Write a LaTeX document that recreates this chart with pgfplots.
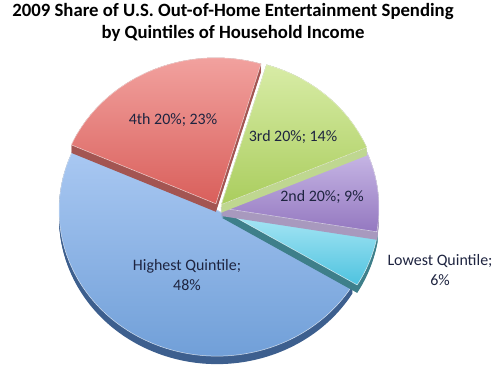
\documentclass[border=0pt]{standalone}
\usepackage{pgfplots}
\pgfplotsset{compat=1.18}
\usepackage{fontspec}
\setmainfont{Carlito}

\definecolor{bluetop}{HTML}{A9C8F2}
\definecolor{bluebot}{HTML}{6C9CD6}
\definecolor{blueside}{HTML}{3D5F8E}
\definecolor{redtop}{HTML}{F4A8A5}
\definecolor{redbot}{HTML}{D95F5B}
\definecolor{redside}{HTML}{A35552}
\definecolor{greentop}{HTML}{D8ECA6}
\definecolor{greenbot}{HTML}{AACD5E}
\definecolor{greenside}{HTML}{BFD790}
\definecolor{purptop}{HTML}{C8B8E6}
\definecolor{purpbot}{HTML}{9478C0}
\definecolor{purpside}{HTML}{A899BE}
\definecolor{cyantop}{HTML}{AEE8F6}
\definecolor{cyanbot}{HTML}{4EC3DF}
\definecolor{cyanside}{HTML}{3E7F8A}
\definecolor{labcol}{HTML}{1E2440}

% #1 start angle, #2 end angle, #3 explode, #4 downward offset, #5 style
\newcommand\sideat[5]{%
  \fill[#5] (axis cs:{218+#3*cos((#1+#2)/2)},{166+#3*sin((#1+#2)/2)-#4})
   -- (axis cs:{218+#3*cos((#1+#2)/2)+158*cos(#1)},{166+#3*sin((#1+#2)/2)+146*sin(#1)-#4})
   arc[start angle=#1,end angle=#2,x radius=158bp,y radius=146bp] -- cycle;}
% #1 start, #2 end, #3 explode, #4 top colour, #5 bottom colour, #6 side colour
\newcommand\slice[6]{%
  \sideat{#1}{#2}{#3}{8}{#6}\sideat{#1}{#2}{#3}{7}{#6}%
  \sideat{#1}{#2}{#3}{6}{#6}\sideat{#1}{#2}{#3}{5}{#6}%
  \sideat{#1}{#2}{#3}{4}{#6}\sideat{#1}{#2}{#3}{3}{#6}%
  \sideat{#1}{#2}{#3}{2}{#6}\sideat{#1}{#2}{#3}{1}{#6}%
  \sideat{#1}{#2}{#3}{0}{top color=#4,bottom color=#5,draw=white!55!#4,line width=0.5pt}}

\begin{document}
\begin{tikzpicture}
\begin{axis}[x=1bp,y=1bp,scale only axis,hide axis,clip=false,
  xmin=0,xmax=500,ymin=0,ymax=374]
\path (axis cs:0,0) rectangle (axis cs:500,374);
% shares (%): Lowest 6, 2nd 9, 3rd 14, 4th 23, Highest 48  -> angles from -31 deg
\slice{156.2}{329.0}{2}{bluetop}{bluebot}{blueside}
\slice{-31.0}{-9.4}{4}{cyantop}{cyanbot}{cyanside}
\slice{-9.4}{23.0}{3}{purptop}{purpbot}{purpside}
\slice{23.0}{73.4}{5}{greentop}{greenbot}{greenside}
\slice{73.4}{156.2}{5}{redtop}{redbot}{redside}

\node[align=center,text=labcol,font=\fontsize{16}{20}\selectfont] at (axis cs:187,99) {Highest Quintile;\\48\%};
\node[align=center,text=labcol,font=\fontsize{16}{20}\selectfont] at (axis cs:173,254) {4th 20\%; 23\%};
\node[align=center,text=labcol,font=\fontsize{16}{20}\selectfont] at (axis cs:293,237) {3rd 20\%; 14\%};
\node[align=center,text=labcol,font=\fontsize{16}{20}\selectfont] at (axis cs:322,177) {2nd 20\%; 9\%};
\node[align=center,text=labcol,font=\fontsize{16}{20}\selectfont] at (axis cs:440,104) {Lowest Quintile;\\6\%};
\node[align=center,font=\bfseries\fontsize{18.8}{22}\selectfont] at (axis cs:233,352) {2009 Share of U.S. Out-of-Home Entertainment Spending\\by Quintiles of Household Income};
\end{axis}
\end{tikzpicture}
\end{document}
